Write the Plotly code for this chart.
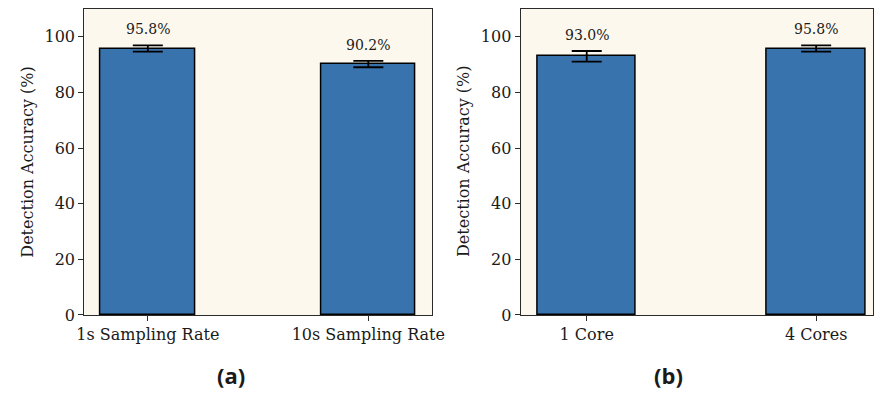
import plotly.graph_objects as go

# Data
cats_a = ["1s Sampling Rate", "10s Sampling Rate"]
vals_a = [95.8, 90.2]
errs_a = [1.1, 1.15]
cats_b = ["1 Core", "4 Cores"]
vals_b = [93.0, 95.8]
errs_b = [1.9, 1.1]
yticks = [0, 20, 40, 60, 80, 100]
ylabel = "Detection Accuracy (%)"
panel_labels = ["(a)", "(b)"]

# The page body has an 8px margin; compensate so the visible picture is 888x401
OFF = 8
W, H = 888 - OFF, 401 - OFF
BAR = "#3973ad"
BG = "#fdf8ee"
SERIF = "DejaVu Serif"
INK = "#1a1a1a"


def px_x(p):
    return (p - OFF) / W


def px_y(p):
    return 1 - (p - OFF) / H


fig = go.Figure()

panels = [
    (cats_a, vals_a, errs_a, "x", "y", [78, 434], [-0.288, 1.288]),
    (cats_b, vals_b, errs_b, "x2", "y2", [525, 886], [-0.288, 1.248]),
]

for cats, vals, errs, xa, ya, dom, rng in panels:
    xs = list(range(len(cats)))
    fig.add_trace(go.Bar(
        x=xs, y=vals, width=0.43, xaxis=xa, yaxis=ya,
        marker=dict(color=BAR, line=dict(color="black", width=1.5)),
        error_y=dict(type="data", array=errs, visible=True, color="black",
                     thickness=1.8, width=15),
        showlegend=False, hoverinfo="skip",
    ))
    for xi, v, e in zip(xs, vals, errs):
        fig.add_annotation(x=xi, y=v + e, xref=xa, yref=ya, text=f"{v:.1f}%",
                           showarrow=False, xanchor="center", yanchor="middle",
                           yshift=16,
                           font=dict(family=SERIF, size=14, color=INK))

axis_common = dict(
    showline=True, linecolor="#2a2a2a", linewidth=1.2, mirror=True,
    ticks="outside", ticklen=5, tickwidth=1.2, tickcolor="#2a2a2a",
    showgrid=False, zeroline=False,
    tickfont=dict(family=SERIF, size=16, color=INK),
)

fig.update_layout(
    width=W, height=H, margin=dict(l=0, r=0, t=0, b=0),
    paper_bgcolor="white", plot_bgcolor=BG, bargap=0,
    xaxis=dict(domain=[px_x(78), px_x(434)], range=panels[0][6],
               tickvals=[0, 1], ticktext=cats_a, anchor="y", **axis_common),
    yaxis=dict(domain=[px_y(323), px_y(9)], range=[0, 110], tickvals=yticks,
               anchor="x", **axis_common),
    xaxis2=dict(domain=[px_x(525), px_x(886)], range=panels[1][6],
                tickvals=[0, 1], ticktext=cats_b, anchor="y2", **axis_common),
    yaxis2=dict(domain=[px_y(323), px_y(9)], range=[0, 110], tickvals=yticks,
                anchor="x2", **axis_common),
)

for xc in [20, 467]:
    fig.add_annotation(x=px_x(xc), y=px_y(166), xref="paper", yref="paper",
                       xanchor="center", yanchor="middle",
                       text=ylabel, textangle=-90, showarrow=False,
                       font=dict(family=SERIF, size=16, color=INK))

for xc, lab in zip([228, 676], panel_labels):
    fig.add_annotation(x=px_x(xc), y=px_y(385), xref="paper", yref="paper",
                       xanchor="center", yanchor="middle",
                       text=f"<b>{lab}</b>", showarrow=False,
                       font=dict(family="Open Sans", size=22, color=INK))

fig.write_html("out.html")
